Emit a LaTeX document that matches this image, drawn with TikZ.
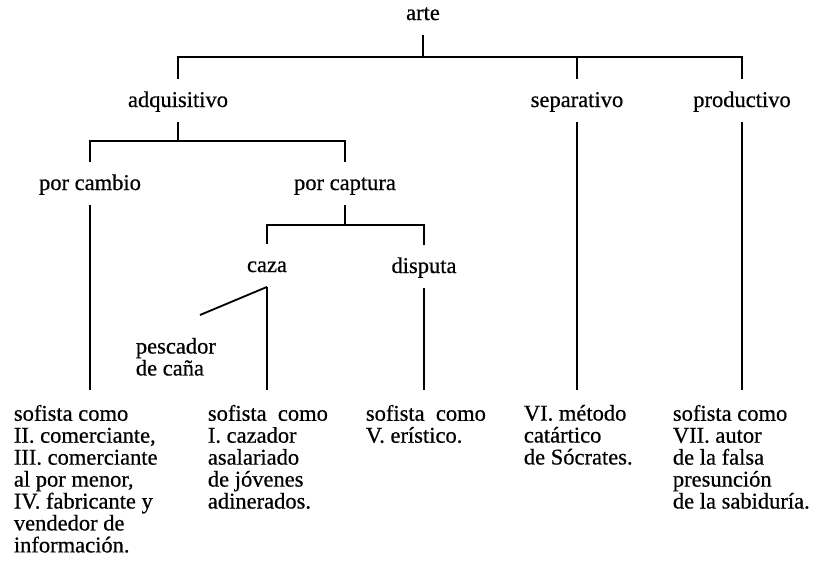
\documentclass[tikz,border=0pt]{standalone}
\usepackage{fontspec}
\setmainfont{Liberation Serif}[FakeBold=0.6]
\usepackage{tikz}

\begin{document}
\begin{tikzpicture}[x=0.025cm,y=-0.025cm,line width=1.3pt,
  every node/.style={font=\fontsize{16}{15.6}\selectfont,inner sep=0pt},
  tn/.style={anchor=base,text height=0.675cm,text depth=0.35cm},
  leaf/.style={anchor=north west,align=left,inner ysep=0.35cm}]
  \useasboundingbox (0,0) rectangle (817,573);
  % arbol
  \node[tn] (arte) at (423,20) {arte};
  \node[tn] (adq) at (178,107) {adquisitivo};
  \node[tn] (sep) at (577,107) {separativo};
  \node[tn] (prod) at (742,107) {productivo};
  \node[tn] (cambio) at (90,190) {por cambio};
  \node[tn] (captura) at (345,190) {por captura};
  \node[tn] (caza) at (267,272) {caza};
  \node[tn] (disputa) at (424,273) {disputa};
  \node[anchor=north west,align=left] (pesca) at (135,337) {pescador\\de caña};
  \coordinate (cana) at (200,315);
  \coordinate (r1) at (0,57);
  \coordinate (r2) at (0,141);
  \coordinate (r3) at (0,225);
  % sofistas
  \node[leaf] (l1) at (13,390) {sofista como\\II. comerciante,\\III. comerciante\\al por menor,\\IV. fabricante y\\vendedor de\\información.};
  \node[leaf] (l2) at (207,390) {sofista\ \ como\\I. cazador\\asalariado\\de jóvenes\\adinerados.};
  \node[leaf] (l3) at (365,390) {sofista\ \ como\\V. erístico.};
  \node[leaf] (l4) at (523,390) {VI. método\\catártico\\de Sócrates.};
  \node[leaf] (l5) at (672,390) {sofista como\\VII. autor\\de la falsa\\presunción\\de la sabiduría.};
  \draw (arte.south) -- (arte.south |- r1);
  \draw (adq.north) -- (adq.north |- r1) -- (prod.north |- r1) -- (prod.north);
  \draw (sep.north) -- (sep.north |- r1);
  \draw (adq.south) -- (adq.south |- r2);
  \draw (cambio.north) -- (cambio.north |- r2) -- (captura.north |- r2) -- (captura.north);
  \draw (captura.south) -- (captura.south |- r3);
  \draw (caza.north) -- (caza.north |- r3) -- (disputa.north |- r3) -- (disputa.north);
  \draw (caza.south) -- (cana);
  \draw (cambio.south) -- (cambio.south |- l1.north);
  \draw (caza.south) -- (caza.south |- l2.north);
  \draw (disputa.south) -- (disputa.south |- l3.north);
  \draw (sep.south) -- (sep.south |- l4.north);
  \draw (prod.south) -- (prod.south |- l5.north);
\end{tikzpicture}
\end{document}
